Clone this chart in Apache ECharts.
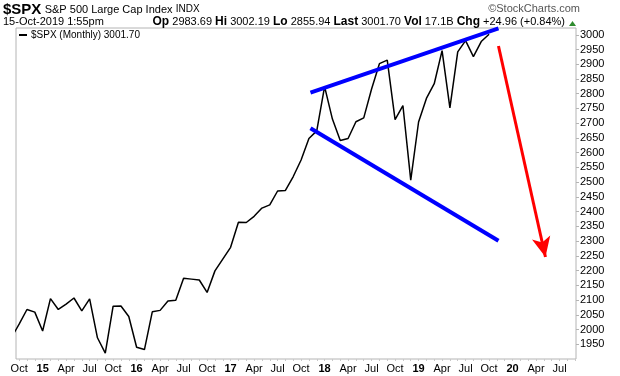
<!doctype html>
<html>
    <head>
        <meta charset="utf-8">
        <title>$SPX Monthly</title>
        <style>
            html, body { margin: 0; padding: 0; background: #fff; }
            #main { width: 620px; height: 376px; }
        </style>
    </head>
    <body>
        <div id="main"></div>
        <script src="https://cdn.jsdelivr.net/npm/echarts@6/dist/echarts.min.js"></script>
        <script>
            // monthly closes, Sep 2014 .. Oct 2019
            var months = [
                '2014-09', '2014-10', '2014-11', '2014-12',
                '2015-01', '2015-02', '2015-03', '2015-04', '2015-05', '2015-06', '2015-07', '2015-08', '2015-09', '2015-10', '2015-11', '2015-12',
                '2016-01', '2016-02', '2016-03', '2016-04', '2016-05', '2016-06', '2016-07', '2016-08', '2016-09', '2016-10', '2016-11', '2016-12',
                '2017-01', '2017-02', '2017-03', '2017-04', '2017-05', '2017-06', '2017-07', '2017-08', '2017-09', '2017-10', '2017-11', '2017-12',
                '2018-01', '2018-02', '2018-03', '2018-04', '2018-05', '2018-06', '2018-07', '2018-08', '2018-09', '2018-10', '2018-11', '2018-12',
                '2019-01', '2019-02', '2019-03', '2019-04', '2019-05', '2019-06', '2019-07', '2019-08', '2019-09', '2019-10'
            ];
            var closes = [
                1972, 2018, 2068, 2059,
                1995, 2105, 2068, 2086, 2107, 2063, 2104, 1972, 1920, 2079, 2080, 2044,
                1940, 1932, 2060, 2065, 2097, 2099, 2174, 2171, 2168, 2126, 2199, 2239,
                2279, 2364, 2363, 2384, 2412, 2423, 2470, 2472, 2519, 2575, 2648, 2674,
                2824, 2714, 2641, 2648, 2705, 2718, 2816, 2902, 2914, 2712, 2760, 2507,
                2704, 2784, 2834, 2946, 2752, 2942, 2980, 2926, 2977, 3002
            ];

            // x axis: months counted from Jan 2015
            var xMin = -3.4, xMax = 68.1;
            var yMin = 1900, yMax = 3023, yStep = 50;
            var monthNames = ['Jan', 'Feb', 'Mar', 'Apr', 'May', 'Jun', 'Jul', 'Aug', 'Sep', 'Oct', 'Nov', 'Dec'];
            var xLabelMonths = [-3, 0, 3, 6, 9, 12, 15, 18, 21, 24, 27, 30, 33, 36, 39, 42, 45, 48, 51, 54, 57, 60, 63, 66];

            // hand-drawn annotations: [month index, price]
            var upperTrend = [[34.2, 2804], [58.2, 3022]];
            var lowerTrend = [[34.2, 2683], [58.2, 2301]];
            var redArrow = [[58.2, 2962], [64.2, 2246]];

            function monthIndex(s) {
                var p = s.split('-');
                return (+p[0] - 2015) * 12 + (+p[1] - 1);
            }

            var lineData = months.map(function (m, i) {
                return [monthIndex(m), closes[i]];
            });

            var allTicks = [];
            for (var t = -3; t <= 68; t++) allTicks.push(t);

            var chart = echarts.init(document.getElementById('main'));
            chart.setOption({
                animation: false,
                backgroundColor: '#fff',
                textStyle: { fontFamily: 'Liberation Sans' },
                grid: {
                    left: 16, right: 44, top: 28, bottom: 17,
                    show: true,
                    borderColor: '#b4b4b4',
                    borderWidth: 1
                },
                xAxis: {
                    type: 'value',
                    min: xMin,
                    max: xMax,
                    axisLine: { show: false, onZero: false },
                    splitLine: { show: false },
                    axisTick: {
                        show: true,
                        customValues: allTicks,
                        length: 2,
                        lineStyle: { color: '#c8c8c8' }
                    },
                    axisLabel: {
                        customValues: xLabelMonths,
                        margin: 4,
                        fontSize: 11,
                        color: '#000',
                        formatter: function (v) {
                            var k = Math.round(v);
                            var mo = ((k % 12) + 12) % 12;
                            if (mo === 0) {
                                return '{y|' + String(2015 + k / 12).slice(2) + '}';
                            }
                            return monthNames[mo];
                        },
                        rich: {
                            y: { fontWeight: 'bold', fontSize: 11, color: '#000' }
                        }
                    }
                },
                yAxis: {
                    type: 'value',
                    position: 'right',
                    min: yMin,
                    max: yMax,
                    interval: yStep,
                    axisLine: { show: false, onZero: false },
                    splitLine: { show: false },
                    axisTick: {
                        show: true,
                        length: 3,
                        lineStyle: { color: '#b4b4b4' }
                    },
                    axisLabel: {
                        margin: 4,
                        fontSize: 11,
                        color: '#000',
                        showMinLabel: false,
                        showMaxLabel: false,
                        formatter: function (v) {
                            return v % yStep === 0 && v > yMin ? String(v) : '';
                        }
                    }
                },
                graphic: [
                    {
                        type: 'text', left: 3, top: 2,
                        style: {
                            text: '{t|$SPX} {n|S&P 500 Large Cap Index} {s|INDX}',
                            rich: {
                                t: { fontFamily: 'Liberation Sans', fontWeight: 'bold', fontSize: 15, fill: '#000' },
                                n: { fontFamily: 'Liberation Sans', fontSize: 11, fill: '#000' },
                                s: { fontFamily: 'Liberation Sans', fontSize: 10, fill: '#000' }
                            }
                        }
                    },
                    {
                        type: 'text', left: 3, top: 16,
                        style: {
                            text: '15-Oct-2019 1:55pm',
                            font: '11px "Liberation Sans"',
                            fill: '#000'
                        }
                    },
                    {
                        type: 'text', right: 55, top: 16,
                        style: {
                            text: '{b|Op} 2983.69 {b|Hi} 3002.19 {b|Lo} 2855.94 {b|Last} 3001.70 {b|Vol} 17.1B {b|Chg} +24.96 (+0.84%)',
                            font: '11px "Liberation Sans"',
                            fill: '#000',
                            rich: {
                                b: { fontFamily: 'Liberation Sans', fontWeight: 'bold', fontSize: 12, fill: '#000' }
                            }
                        }
                    },
                    {
                        type: 'polygon',
                        shape: { points: [[569, 26], [576, 26], [572.5, 21]] },
                        style: { fill: '#2e8b2e' }
                    },
                    {
                        type: 'text', right: 40, top: 3,
                        style: {
                            text: '\u00A9StockCharts.com',
                            font: '11px "Liberation Sans"',
                            fill: '#555'
                        }
                    },
                    {
                        type: 'line',
                        shape: { x1: 19, y1: 35, x2: 27, y2: 35 },
                        style: { stroke: '#000', lineWidth: 2 }
                    },
                    {
                        type: 'text', left: 31, top: 30,
                        style: {
                            text: '$SPX (Monthly) 3001.70',
                            font: '10px "Liberation Sans"',
                            fill: '#000'
                        }
                    }
                ],
                series: [
                    {
                        name: '$SPX',
                        type: 'line',
                        data: lineData,
                        symbol: 'none',
                        clip: true,
                        lineStyle: { color: '#000', width: 1.5 },
                        markLine: {
                            silent: true,
                            symbol: 'none',
                            label: { show: false },
                            data: [
                                [
                                    { coord: upperTrend[0], lineStyle: { color: '#0000ff', width: 4, type: 'solid' } },
                                    { coord: upperTrend[1] }
                                ],
                                [
                                    { coord: lowerTrend[0], lineStyle: { color: '#0000ff', width: 4, type: 'solid' } },
                                    { coord: lowerTrend[1] }
                                ],
                                [
                                    { coord: redArrow[0], symbol: 'none', lineStyle: { color: '#ff0000', width: 3, type: 'solid' } },
                                    { coord: redArrow[1], symbol: 'arrow', symbolSize: [14, 20] }
                                ]
                            ]
                        }
                    }
                ]
            });
        </script>
    </body>
</html>
